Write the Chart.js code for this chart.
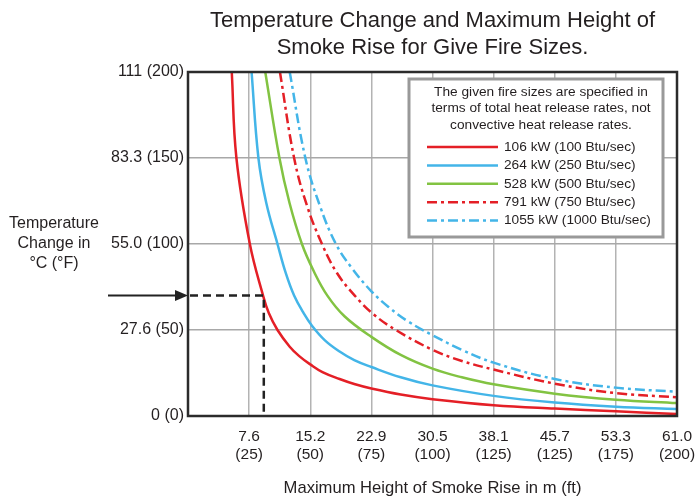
<!DOCTYPE html>
<html lang="en">
<head>
    <meta charset="UTF-8">
    <title>Temperature Change and Maximum Height of Smoke Rise</title>
    <script src="https://cdn.jsdelivr.net/npm/chart.js"></script>
    <style>
        body { margin: 0; background: #fff; }
        canvas { display: block; }
    </style>
</head>
<body>
    <canvas id="smokeChart" width="695" height="497"></canvas>
    <script>
        // heights in ft, temperature change in °F
        const seriesLabels = ['106 kW (100 Btu/sec)', '264 kW (250 Btu/sec)', '528 kW (500 Btu/sec)', '791 kW (750 Btu/sec)', '1055 kW (1000 Btu/sec)'];
        const h106 = [17.9, 19.8, 25.3, 30.7, 33, 36.6, 41.6, 45.5, 50, 55, 62, 68, 75, 87, 100, 125, 150, 175, 200];
        const t106 = [200, 150, 100, 70, 60, 50, 40.3, 34.8, 30, 25.5, 21.5, 18.6, 16, 12.5, 9.8, 6.3, 4.3, 2.7, 1.1];
        const h264 = [26, 28.8, 32, 36.6, 40, 43.4, 47, 50.7, 56, 62, 68, 75, 87, 100, 125, 150, 175, 200];
        const t264 = [200, 150, 124, 100, 83, 70, 60.5, 52.5, 44, 37.5, 32.5, 28.5, 22.5, 17.8, 11.7, 7.8, 5.4, 4.1];
        const h528 = [31.6, 37.4, 41.5, 46.6, 51.5, 57, 64, 75, 87, 100, 112, 125, 150, 175, 200];
        const t528 = [200, 150, 124, 100, 84, 70, 58, 46, 35.5, 27.5, 22.5, 18.4, 13, 9.5, 7.5];
        const h791 = [37.6, 43.4, 48.5, 54.8, 61, 68.2, 76, 85, 100, 112, 125, 150, 175, 200];
        const t791 = [200, 150, 123, 100, 83, 70, 59, 50, 38.5, 32, 27, 18.8, 13.3, 10.9];
        const h1055 = [41.6, 48, 54, 60.5, 67, 75, 82, 90, 100, 112, 125, 150, 175, 200];
        const t1055 = [200, 150, 122, 100, 86, 72.5, 63.4, 55, 47, 38.5, 31, 21.5, 16.5, 14.1];

        const xTickMetric = ['7.6', '15.2', '22.9', '30.5', '38.1', '45.7', '53.3', '61.0'];
        const xTickFeet = ['(25)', '(50)', '(75)', '(100)', '(125)', '(125)', '(175)', '(200)'];
        const yTickLabels = ['0 (0)', '27.6 (50)', '55.0 (100)', '83.3 (150)', '111 (200)'];

        const titleLines = ['Temperature Change and Maximum Height of', 'Smoke Rise for Give Fire Sizes.'];
        const yTitleLines = ['Temperature', 'Change in', '°C (°F)'];
        const xTitle = 'Maximum Height of Smoke Rise in m (ft)';
        const noteLines = ['The given fire sizes are specified in', 'terms of total heat release rates, not', 'convective heat release rates.'];

        // example reading marked with the arrow
        const refTempF = 70;
        const refHeightFt = 31;

        const RED = '#e41f26', BLUE = '#43b5e8', GREEN = '#82c342', INK = '#231f20';
        const FONT = '"Liberation Sans", Arial, Helvetica, sans-serif';

        const pts = (xs, ys) => xs.map((x, i) => ({ x: x, y: ys[i] }));

        function makeSet(label, xs, ys, color, dash) {
            return {
                label: label,
                data: pts(xs, ys),
                borderColor: color,
                borderWidth: 2.5,
                borderDash: dash || [],
                pointRadius: 0,
                fill: false,
                tension: 0.4
            };
        }

        const dashDot = [10, 4, 3, 4];

        const decor = {
            id: 'decor',
            afterDraw(chart) {
                const c = chart.ctx;
                const a = chart.chartArea;
                const xs = chart.scales.x, ys = chart.scales.y;
                c.save();

                // frame
                c.strokeStyle = '#2b2b2b';
                c.lineWidth = 2.5;
                c.strokeRect(a.left, a.top, a.right - a.left, a.bottom - a.top);

                // reference reading
                const ry = ys.getPixelForValue(refTempF);
                const rx = xs.getPixelForValue(refHeightFt);
                c.strokeStyle = '#222';
                c.lineWidth = 2.5;
                c.setLineDash([8, 5]);
                c.beginPath();
                c.moveTo(a.left + 2, ry);
                c.lineTo(rx, ry);
                c.lineTo(rx, a.bottom);
                c.stroke();
                c.setLineDash([]);
                c.lineWidth = 2;
                c.beginPath();
                c.moveTo(a.left - 80, ry);
                c.lineTo(a.left - 10, ry);
                c.stroke();
                c.fillStyle = '#222';
                c.beginPath();
                c.moveTo(a.left, ry);
                c.lineTo(a.left - 13, ry - 5.5);
                c.lineTo(a.left - 13, ry + 5.5);
                c.closePath();
                c.fill();

                // legend box
                const bx = 409, by = 79, bw = 254, bh = 158;
                c.fillStyle = '#fff';
                c.fillRect(bx, by, bw, bh);
                c.strokeStyle = '#999';
                c.lineWidth = 3;
                c.strokeRect(bx, by, bw, bh);
                c.fillStyle = INK;
                c.font = '13.7px ' + FONT;
                c.textAlign = 'center';
                c.textBaseline = 'middle';
                noteLines.forEach((t, i) => c.fillText(t, 541, 92 + i * 16.7));
                c.textAlign = 'left';
                chart.data.datasets.forEach((ds, i) => {
                    const y = 147 + i * 18.4;
                    c.strokeStyle = ds.borderColor;
                    c.lineWidth = 2.5;
                    c.setLineDash(ds.borderDash);
                    c.beginPath();
                    c.moveTo(427, y);
                    c.lineTo(498, y);
                    c.stroke();
                    c.setLineDash([]);
                    c.fillText(ds.label, 504, y);
                });

                // titles
                const cx = (a.left + a.right) / 2;
                c.fillStyle = INK;
                c.textAlign = 'center';
                c.font = '22px ' + FONT;
                c.fillText(titleLines[0], cx, 21);
                c.fillText(titleLines[1], cx, 48);
                c.font = '16px ' + FONT;
                yTitleLines.forEach((t, i) => c.fillText(t, 54, 224 + i * 20));
                c.font = '16.6px ' + FONT;
                c.fillText(xTitle, cx, 488);
                c.restore();
            }
        };

        const ctx = document.getElementById('smokeChart').getContext('2d');
        new Chart(ctx, {
            type: 'line',
            data: {
                datasets: [
                    makeSet(seriesLabels[0], h106, t106, RED),
                    makeSet(seriesLabels[1], h264, t264, BLUE),
                    makeSet(seriesLabels[2], h528, t528, GREEN),
                    makeSet(seriesLabels[3], h791, t791, RED, dashDot),
                    makeSet(seriesLabels[4], h1055, t1055, BLUE, dashDot)
                ]
            },
            options: {
                responsive: false,
                animation: false,
                layout: { padding: { left: 0, right: 18, top: 72, bottom: 0 } },
                plugins: {
                    legend: { display: false },
                    title: { display: false },
                    tooltip: { enabled: false }
                },
                scales: {
                    x: {
                        type: 'linear',
                        min: 0,
                        max: 200,
                        grid: { color: '#b3b3b3', lineWidth: 1.5, drawTicks: false },
                        border: { display: false },
                        ticks: {
                            stepSize: 25,
                            autoSkip: false,
                            maxRotation: 0,
                            padding: 12,
                            color: INK,
                            font: { family: FONT, size: 15.5, lineHeight: 1.15 },
                            callback: v => v === 0 ? '' : [xTickMetric[v / 25 - 1], xTickFeet[v / 25 - 1]]
                        },
                        afterFit: s => {
                            s.height = 81;
                            s.paddingLeft = 0;
                            s.paddingRight = 0;
                        }
                    },
                    y: {
                        min: 0,
                        max: 200,
                        grid: { color: '#a8a8a8', lineWidth: 1.5, drawTicks: false },
                        border: { display: false },
                        ticks: {
                            stepSize: 50,
                            padding: 4,
                            color: INK,
                            font: { family: FONT, size: 16 },
                            callback: v => yTickLabels[v / 50]
                        },
                        afterFit: s => {
                            s.width = 188;
                            s.paddingTop = 0;
                            s.paddingBottom = 0;
                        }
                    }
                }
            },
            plugins: [decor]
        });
    </script>
</body>
</html>
